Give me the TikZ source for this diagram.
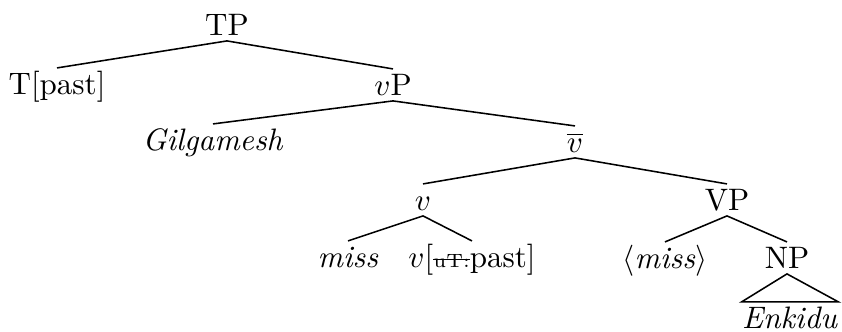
\documentclass[tikz,border=0pt]{standalone}
\newcommand\mystrike[1]{\setbox0\hbox{#1}\rlap{\raise0.8ex\hbox{\vrule width\wd0 height 0.4pt depth 0pt}}\box0}
\begin{document}
\begin{tikzpicture}[x=0.322pt,y=-0.322pt,
  lab/.style={anchor=base,inner xsep=1.5pt,inner ysep=1.7pt,text height=6.5pt,text depth=0pt},
  br/.style={line width=0.5pt}]
\useasboundingbox (0,0) rectangle (842,331);
\node[lab] (TP) at (227,35) {TP};
\node[lab] (T) at (57,94) {T[past]};
\node[lab] (vP) at (393,95) {$v$P};
\node[lab] (G) at (213,150) {\textit{Gilgamesh}};
\node[lab] (vbar) at (575,152) {$\overline{v}$};
\node[lab] (v) at (423,210) {$v$};
\node[lab] (VP) at (727,210) {VP};
\node[lab] (miss) at (348,267) {\textit{miss}};
\node[lab] (vpast) at (472,267) {$v$[{\fontsize{6.2}{7}\selectfont\mystrike{uT:}}past]};
\node[lab] (tmiss) at (665,268) {$\langle$\textit{miss}$\rangle$};
\node[lab] (NP) at (787,268) {NP};
\node[lab,inner xsep=0pt] (E) at (790,328) {\textit{Enkidu}};
\draw[br] (T.north) -- (TP.south) -- (vP.north);
\draw[br] (G.north) -- (vP.south) -- (vbar.north);
\draw[br] (v.north) -- (vbar.south) -- (VP.north);
\draw[br] (miss.north) -- (v.south) -- (vpast.north);
\draw[br] (tmiss.north) -- (VP.south) -- (NP.north);
\draw[br] (NP.south) -- (E.north west) -- (E.north east) -- cycle;
\end{tikzpicture}
\end{document}
